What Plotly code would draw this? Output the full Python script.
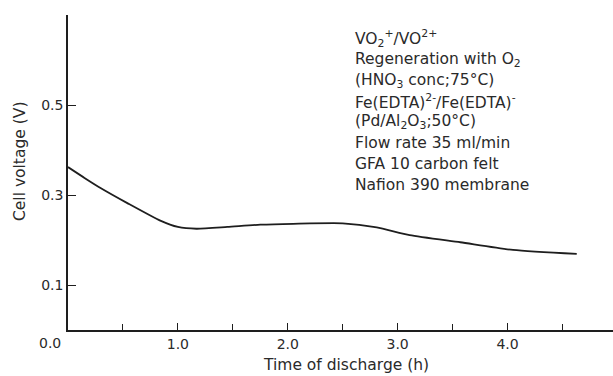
import plotly.graph_objects as go

# Data
time_h = [0.00, 0.15, 0.30, 0.54, 0.84, 1.00, 1.17, 1.45, 1.75, 2.05, 2.50, 2.81, 3.11, 3.57, 4.05, 4.63]
voltage = [0.362, 0.338, 0.315, 0.282, 0.243, 0.229, 0.225, 0.229, 0.234, 0.236, 0.237, 0.228, 0.211, 0.195, 0.178, 0.169]

x_tickvals = [1, 2, 3, 4]
x_ticktext = ["1.0", "2.0", "3.0", "4.0"]
y_tickvals = [0.1, 0.3, 0.5, 0.7]
y_ticktext = ["0.1", "0.3", "0.5", ""]

legend_lines = [
    "VO<sub>2</sub><sup>+</sup>/VO<sup>2+</sup>",
    "Regeneration with O<sub>2</sub>",
    "(HNO<sub>3</sub> conc;75°C)",
    "Fe(EDTA)<sup>2-</sup>/Fe(EDTA)<sup>-</sup>",
    "(Pd/Al<sub>2</sub>O<sub>3</sub>;50°C)",
    "Flow rate 35 ml/min",
    "GFA 10 carbon felt",
    "Nafion 390 membrane",
]

FONT = "DejaVu Sans"
INK = "#1e1e1e"
TXT = "#2a2a2a"

fig = go.Figure()
fig.add_trace(go.Scatter(
    x=time_h, y=voltage, mode="lines",
    line=dict(color=INK, width=1.8, shape="spline", smoothing=0.6),
    showlegend=False, hoverinfo="skip",
))

W, H = 613, 376
L, R, T, B = 68, 0, 15, 46

fig.update_layout(
    width=W, height=H,
    margin=dict(l=L, r=R, t=T, b=B),
    paper_bgcolor="white", plot_bgcolor="white",
    font=dict(family=FONT, size=14, color=TXT),
    xaxis=dict(
        range=[0, 4.96], showgrid=False, zeroline=False,
        showline=True, linecolor=INK, linewidth=1.5,
        ticks="inside", ticklen=7, tickwidth=1.2, tickcolor=INK,
        tickvals=x_tickvals, ticktext=x_ticktext,
        tickfont=dict(family=FONT, size=14, color=TXT),
        minor=dict(tickvals=[0.5, 1.5, 2.5, 3.5, 4.5], ticks="inside",
                   ticklen=6, tickwidth=1.2, tickcolor=INK),
    ),
    yaxis=dict(
        range=[0, 0.7], showgrid=False, zeroline=False,
        showline=True, linecolor=INK, linewidth=1.5,
        ticks="inside", ticklen=8, tickwidth=1.2, tickcolor=INK,
        tickvals=y_tickvals, ticktext=y_ticktext,
        tickfont=dict(family=FONT, size=14, color=TXT),
    ),
)

ann = []
# origin label
ann.append(dict(text="0.0", xref="paper", yref="paper", x=0, y=0,
                xanchor="center", yanchor="top", xshift=-18, yshift=-3,
                showarrow=False, font=dict(family=FONT, size=14, color=TXT)))
# axis titles
ann.append(dict(text="Time of discharge (h)", xref="paper", yref="paper",
                x=(346 - L) / (W - L - R), y=0, xanchor="center", yanchor="top",
                yshift=-24, showarrow=False,
                font=dict(family=FONT, size=15.5, color=TXT)))
ann.append(dict(text="Cell voltage (V)", xref="paper", yref="paper",
                x=0, y=1 - (162 - T) / (H - T - B), xanchor="center",
                yanchor="middle", xshift=-48, textangle=-90, showarrow=False,
                font=dict(family=FONT, size=15.5, color=TXT)))
# text block
top_px = 39
step = 20.8
for i, line in enumerate(legend_lines):
    ypx = top_px + i * step
    yp = 1 - (ypx - T) / (H - T - B)
    ann.append(dict(text=line, xref="paper", yref="paper",
                    x=(353 - L) / (W - L - R), y=yp,
                    xanchor="left", yanchor="middle", showarrow=False,
                    font=dict(family=FONT, size=15.5, color=TXT)))
fig.update_layout(annotations=ann)

fig.write_html("out.html")
